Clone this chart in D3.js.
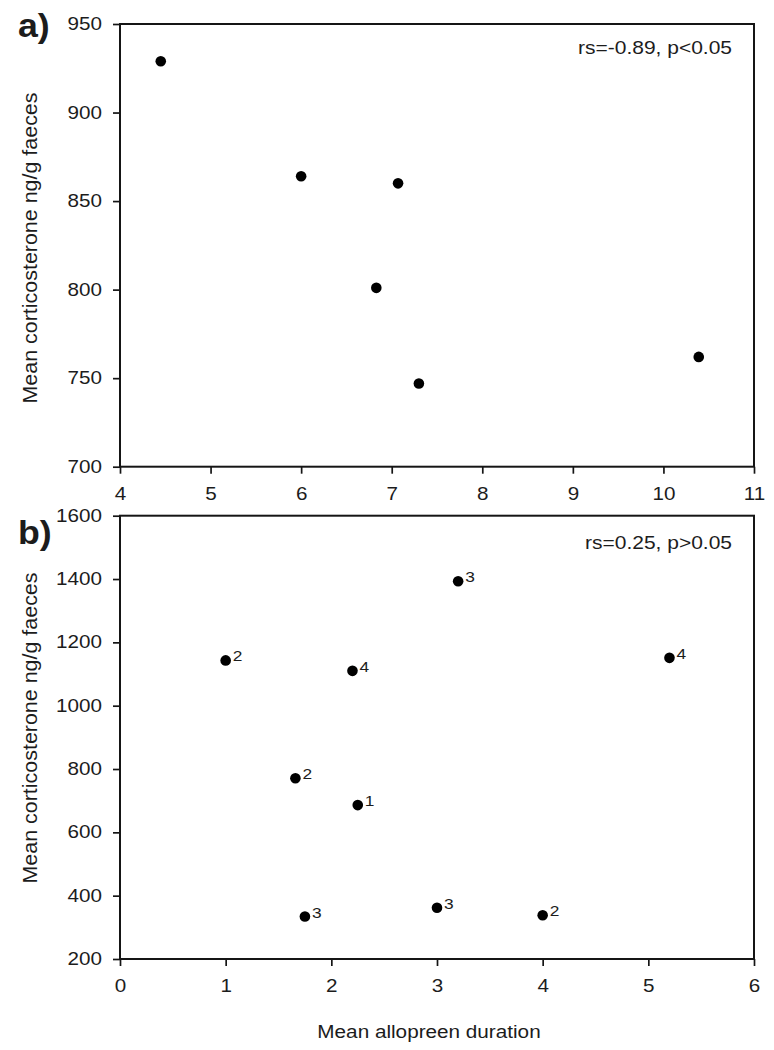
<!DOCTYPE html>
<html>
<head>
<meta charset="utf-8">
<script src="https://cdn.jsdelivr.net/npm/d3@7"></script>
<style>
  html, body { margin: 0; padding: 0; background: #fff; }
  svg { display: block; }
  text { font-family: "Liberation Sans", Arial, Helvetica, sans-serif; fill: #1c1c1c; }
</style>
</head>
<body>
<svg id="chart" width="774" height="1050"></svg>
<script>
// ---------- data ----------
const aXTicks = [4, 5, 6, 7, 8, 9, 10, 11];
const aYTicks = [700, 750, 800, 850, 900, 950];
const aX = [4.45, 6.0, 7.07, 6.83, 7.30, 10.39];
const aY = [929, 864, 860, 801, 747, 762];
const aStat = "rs=-0.89, p<0.05";

const bXTicks = [0, 1, 2, 3, 4, 5, 6];
const bYTicks = [200, 400, 600, 800, 1000, 1200, 1400, 1600];
const bX = [1.0, 2.2, 1.66, 3.2, 5.2, 2.25, 1.75, 3.0, 4.0];
const bY = [1143, 1110, 771, 1393, 1151, 686, 334, 362, 338];
const bLabels = ["2", "4", "2", "3", "4", "1", "3", "3", "2"];
const bStat = "rs=0.25, p>0.05";

const yTitle = "Mean corticosterone ng/g faeces";
const xTitle = "Mean allopreen duration";

// ---------- layout ----------
const svg = d3.select("#chart");
const left = 120, right = 754;
const ink = "#151515";

function panel(opts) {
  const { top, bottom, xDomain, yDomain, xTicks, yTicks, xs, ys, labels, stat, statBaseline, tag, tagBaseline, titleCenter } = opts;
  const x = d3.scaleLinear().domain(xDomain).range([left, right]);
  const y = d3.scaleLinear().domain(yDomain).range([bottom, top]);
  const g = svg.append("g");

  // y axis
  const yAx = g.append("g").attr("transform", `translate(${left},0)`)
    .call(d3.axisLeft(y).tickValues(yTicks).tickSize(7).tickSizeOuter(0).tickPadding(8.3).tickFormat(d3.format("d")));
  yAx.select(".domain").remove();
  yAx.selectAll(".tick line").attr("stroke", ink).attr("stroke-width", 1.7);
  yAx.selectAll(".tick text").attr("font-size", 17.5).attr("fill", "#1c1c1c")
    .attr("font-family", "Liberation Sans, Arial, sans-serif")
    .attr("transform", "scale(1.18,1)");

  // x axis
  const xAx = g.append("g").attr("transform", `translate(0,${bottom})`)
    .call(d3.axisBottom(x).tickValues(xTicks).tickSize(7).tickSizeOuter(0).tickPadding(13.5).tickFormat(d3.format("d")));
  xAx.select(".domain").remove();
  xAx.selectAll(".tick line").attr("stroke", ink).attr("stroke-width", 1.7);
  xAx.selectAll(".tick text").attr("font-size", 17.5).attr("fill", "#1c1c1c")
    .attr("font-family", "Liberation Sans, Arial, sans-serif")
    .attr("transform", "scale(1.18,1)");

  // frame
  g.append("rect").attr("x", left).attr("y", top)
    .attr("width", right - left).attr("height", bottom - top)
    .attr("fill", "none").attr("stroke", ink).attr("stroke-width", 2);

  // points
  g.selectAll("circle.pt").data(xs.map((v, i) => [v, ys[i]])).join("circle")
    .attr("class", "pt")
    .attr("cx", d => x(d[0])).attr("cy", d => y(d[1]))
    .attr("r", 5.3).attr("fill", "#000");

  // point labels
  if (labels) {
    g.selectAll("text.pl").data(xs.map((v, i) => [v, ys[i], labels[i]])).join("text")
      .attr("class", "pl")
      .attr("transform", d => `translate(${x(d[0]) + 7},${y(d[1]) + 1}) scale(1.12,1)`)
      .attr("font-size", 15.5)
      .text(d => d[2]);
  }

  // stat annotation
  g.append("text")
    .attr("transform", `translate(732,${statBaseline}) scale(1.2,1)`)
    .attr("text-anchor", "end").attr("font-size", 17.5)
    .text(stat);

  // panel tag
  g.append("text")
    .attr("transform", `translate(18,${tagBaseline}) scale(1.05,1)`)
    .attr("font-size", 34).attr("font-weight", "bold").attr("fill", "#111")
    .text(tag);

  // y title
  g.append("text")
    .attr("transform", `translate(36.5,${titleCenter}) rotate(-90) scale(1.1,1)`)
    .attr("text-anchor", "middle").attr("font-size", 19.5)
    .text(yTitle);

  return { x, y };
}

panel({
  top: 24, bottom: 466.7, xDomain: [4, 11], yDomain: [700, 950],
  xTicks: aXTicks, yTicks: aYTicks, xs: aX, ys: aY, labels: null,
  stat: aStat, statBaseline: 54, tag: "a)", tagBaseline: 37, titleCenter: 248
});

panel({
  top: 515.7, bottom: 959, xDomain: [0, 6], yDomain: [200, 1600],
  xTicks: bXTicks, yTicks: bYTicks, xs: bX, ys: bY, labels: bLabels,
  stat: bStat, statBaseline: 549.3, tag: "b)", tagBaseline: 544, titleCenter: 728
});

// x title
svg.append("text")
  .attr("transform", "translate(429,1037.5) scale(1.12,1)")
  .attr("text-anchor", "middle").attr("font-size", 18.5)
  .text(xTitle);
</script>
</body>
</html>
